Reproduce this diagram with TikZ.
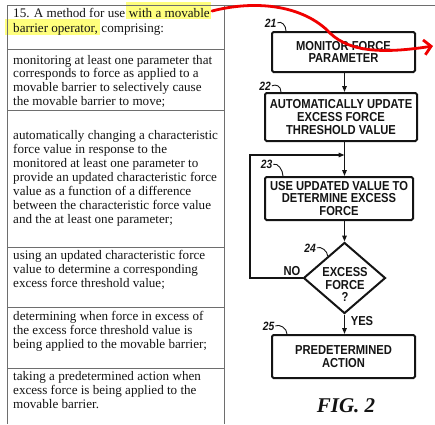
\documentclass[tikz,border=0pt]{standalone}
\usepackage{fontspec}
\setmainfont{Liberation Serif}
\newfontfamily\fcfont[FakeStretch=0.86]{Liberation Sans}
\usetikzlibrary{arrows.meta,shapes.geometric,backgrounds,calc}

\definecolor{hlyellow}{RGB}{255,255,125}
\definecolor{rulegray}{RGB}{110,110,110}
\definecolor{ink}{RGB}{20,20,20}
\definecolor{redpen}{RGB}{240,0,0}

\tikzset{
  cell/.style={anchor=base west, inner sep=0pt, text=ink,
    font=\fontsize{13.1}{14}\selectfont},
  tabrule/.style={draw=rulegray, line width=0.9pt},
  fcbox/.style={draw=ink, line width=2pt, rounded corners=1.5pt, inner sep=0pt,
    align=center, text=ink,
    font={\fcfont\bfseries\fontsize{13}{12.6}\selectfont}},
  fctext/.style={inner sep=0pt, align=center, text=ink,
    font={\fcfont\bfseries\fontsize{13}{12.6}\selectfont}},
  refnum/.style={inner sep=0pt, text=ink, anchor=base,
    font={\fcfont\bfseries\itshape\fontsize{12}{12}\selectfont}},
  leader/.style={draw=ink, line width=0.9pt},
  flow/.style={draw=ink, line width=1.4pt, -{Triangle[length=6pt,width=4.5pt]}},
}

\begin{document}
\begin{tikzpicture}[x=1pt,y=-1pt]
\useasboundingbox (0,0) rectangle (435,424);

% ---------- claim table ----------
\node[cell] (r1a) at (13,17) {15. A method for use};
\node[cell] (r1b) at ([xshift=3.3pt]r1a.base east) {with a movable};
\node[cell] (r1c) at (13,32) {barrier operator,};
\node[cell] (r1d) at ([xshift=3.3pt]r1c.base east) {comprising:};

\begin{scope}[on background layer]
  \fill[hlyellow] ($(r1b.base west)+(-3,-15)$) rectangle ($(r1b.base east)+(1,2)$);
  \fill[hlyellow] ($(r1c.base west)+(-8,-13)$) rectangle ($(r1c.base east)+(2,3)$);
\end{scope}

\foreach \t [count=\i from 0] in {monitoring at least one parameter that,
    corresponds to force as applied to a,
    movable barrier to selectively cause,
    the movable barrier to move;}
  \node[cell] (r2l\i) at (13,64+13.9*\i) {\t};

\foreach \t [count=\i from 0] in {automatically changing a characteristic,
    force value in response to the,
    monitored at least one parameter to,
    provide an updated characteristic force,
    value as a function of a difference,
    between the characteristic force value,
    and the at least one parameter;}
  \node[cell] (r3l\i) at (13,139+14.1*\i) {\t};

\foreach \t [count=\i from 0] in {using an updated characteristic force,
    value to determine a corresponding,
    excess force threshold value;}
  \node[cell] (r4l\i) at (13,259+14*\i) {\t};

\foreach \t [count=\i from 0] in {determining when force in excess of,
    the excess force threshold value is,
    being applied to the movable barrier;}
  \node[cell] (r5l\i) at (13,320+14*\i) {\t};

\foreach \t [count=\i from 0] in {taking a predetermined action when,
    excess force is being applied to the,
    movable barrier.}
  \node[cell] (r6l\i) at (13,380+14.3*\i) {\t};

% table rules
\draw[tabrule] (7,5) -- (435,5);
\draw[tabrule] (7,5) -- (7,424);
\draw[tabrule] (224,5) -- (224,424);
\foreach \y in {49,110,247,307,368}
  \draw[tabrule] (7,\y) -- (224,\y);

% ---------- flow chart ----------
\node[fcbox, minimum width=143pt, minimum height=40pt] (b21) at (343.5,52)
  {MONITOR FORCE\\PARAMETER};
\node[fcbox, minimum width=152pt, minimum height=48pt] (b22) at (341,117)
  {AUTOMATICALLY UPDATE\\EXCESS FORCE\\THRESHOLD VALUE};
\node[fcbox, minimum width=148pt, minimum height=43pt] (b23) at (339,198.5)
  {USE UPDATED VALUE TO\\DETERMINE EXCESS\\FORCE};
\node[diamond, draw=ink, line width=2pt, inner sep=0pt,
      minimum width=82pt, minimum height=71pt] (d24) at (344.5,278) {};
\node[fctext, anchor=north] (d24t) at (345,267.5) {EXCESS\\FORCE\\?};
\node[fcbox, minimum width=143pt, minimum height=43pt] (b25) at (343.5,356.5)
  {PREDETERMINED\\ACTION};

% connectors
\coordinate (lpc) at (250,155);
\coordinate (jn) at (d24.north |- lpc);
\draw[flow] (b21.south -| d24.north) -- (b22.north -| d24.north);
\draw[flow] (b22.south -| d24.north) -- (b23.north -| d24.north);
\draw[flow] (d24.west) -| (lpc) -- (jn);
\draw[flow] (b23.south -| d24.north) -- (d24.north);
\draw[flow] (d24.south) -- (b25.north -| d24.south);

\node[fctext, anchor=base] (no) at (292,275.5) {NO};
\node[fctext, anchor=base] (yes) at (362,325) {YES};

% reference numerals with leaders
\node[refnum] (n21) at (270.5,27) {21};
\node[refnum] (n22) at (265,90) {22};
\node[refnum] (n23) at (266.5,168.5) {23};
\node[refnum] (n24) at (310,252) {24};
\node[refnum] (n25) at (268.5,330) {25};

\draw[leader] ([xshift=1pt]n21.east) .. controls +(4,-2) and +(0,-6) .. ([xshift=15pt]b21.north west);
\draw[leader] ([xshift=1pt]n22.east) .. controls +(4,-2) and +(0,-6) .. ([xshift=17pt]b22.north west);
\draw[leader] ([xshift=1pt]n23.east) .. controls +(4,-2) and +(0,-6) .. ([xshift=19pt]b23.north west);
\draw[leader] ([xshift=1pt]n24.east) .. controls +(4,-2) and +(0,-5) .. ($(d24.north)!0.4!(d24.west)$);
\draw[leader] ([xshift=1pt]n25.east) .. controls +(4,-2) and +(0,-6) .. ([xshift=16pt]b25.north west);

\node[inner sep=0pt, anchor=base, text=ink,
      font=\bfseries\itshape\fontsize{21}{21}\selectfont] (fig) at (346,412) {FIG. 2};

% red pen stroke
\coordinate (penA) at (212,11);
\coordinate (penB) at (327,30);
\coordinate (penC) at (433,46);
\draw[redpen, line width=2.8pt, line cap=round,
      -{Straight Barb[length=7pt,width=15pt]}]
  (penA) .. controls (255,0) and (300,5) .. (penB)
         .. controls (345,50) and (375,55) .. (penC);
\end{tikzpicture}
\end{document}
